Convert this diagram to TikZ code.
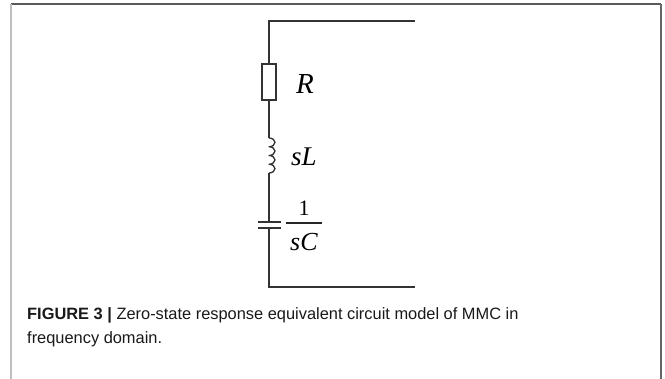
\documentclass[tikz,border=0pt]{standalone}
\usepackage{fontspec}
\setmainfont{Liberation Serif}
\newfontfamily\capfont{Liberation Sans}
\begin{document}
\begin{tikzpicture}[x=1pt,y=-1pt,
  wire/.style={draw=black!80,line width=1.3pt},
  frameline/.style={line width=1.6pt},
  lbl/.style={font=\fontsize{29}{32}\selectfont\itshape,inner sep=0pt,anchor=base west},
  captext/.style={font=\capfont\fontsize{16.4}{24}\selectfont,inner sep=0pt,anchor=base west,align=left,text=black!90}]
\useasboundingbox (0,0) rectangle (665,379);
% frame
\coordinate (ftl) at (11,4);
\coordinate (ftr) at (661,4);
\coordinate (fbl) at (11,379);
\coordinate (fbr) at (661,379);
\draw[frameline,draw=black!65] (ftl) -- (ftr);
\draw[frameline,draw=black!25] (ftl) -- (fbl);
\draw[frameline,draw=black!60] (ftr) -- (fbr);
% circuit
\coordinate (tr) at (415,21);
\coordinate (tl) at (269,21);
\node[draw=black!80,line width=1.2pt,minimum width=14pt,minimum height=36pt,inner sep=0pt] (res) at (269,82) {};
\coordinate (lt) at (269,138);
\coordinate (lb) at (269,173);
\coordinate (c1) at (269,222);
\coordinate (c2) at (269,228);
\coordinate (bl) at (269,287);
\coordinate (br) at (415,287);
\draw[wire] (tr) -- (tl) -- (res.north);
\draw[wire] (res.south) -- (lt);
\draw[wire,line join=round] (lt) arc[start angle=-90,end angle=90,x radius=6,y radius=4.375]
  arc[start angle=-90,end angle=90,x radius=6,y radius=4.375]
  arc[start angle=-90,end angle=90,x radius=6,y radius=4.375]
  arc[start angle=-90,end angle=90,x radius=6,y radius=4.375];
\draw[wire] (lb) -- (c1);
\draw[draw=black!80,line width=1.6pt] ([xshift=-11pt]c1) -- ([xshift=12pt]c1);
\draw[draw=black!80,line width=1.6pt] ([xshift=-11pt]c2) -- ([xshift=12pt]c2);
\draw[wire] (c2) -- (bl) -- (br);
% labels
\node[lbl] (lR) at (296,94) {R};
\node[lbl,font=\fontsize{27}{30}\selectfont\itshape] (lL) at (291,166) {sL};
\coordinate (fb1) at (286,223);
\coordinate (fb2) at (322,223);
\draw[draw=black!85,line width=1.1pt] (fb1) -- (fb2);
\node[inner sep=0pt,anchor=base,font=\fontsize{22}{24}\selectfont] (one) at (304,216) {1};
\node[lbl,font=\fontsize{26}{28}\selectfont\itshape] (sC) at (290,251) {sC};
% caption
\node[captext] (caption) at (27,344) {{\bfseries FIGURE 3 |} Zero-state response equivalent circuit model of MMC in\\frequency domain.};
\end{tikzpicture}
\end{document}
